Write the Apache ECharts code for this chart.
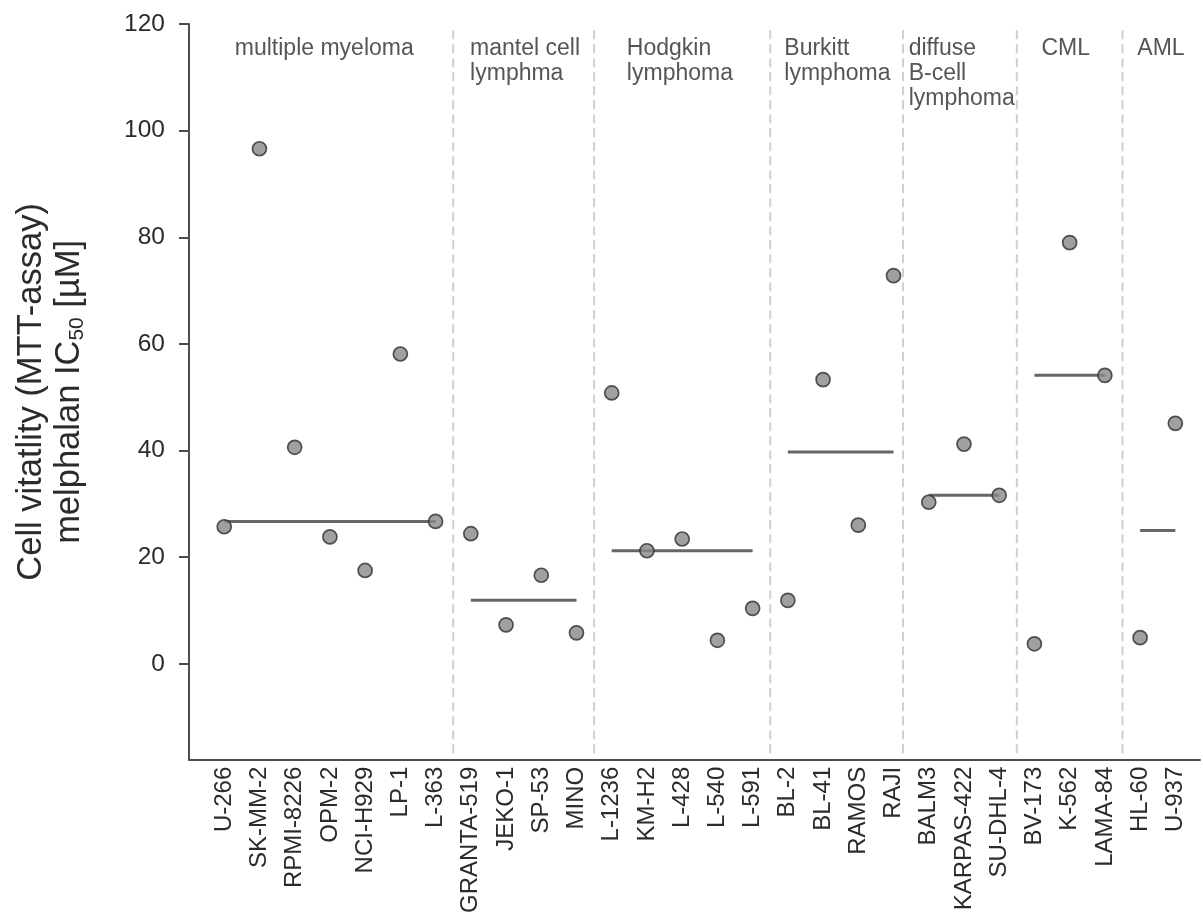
<!DOCTYPE html>
<html>
<head>
<meta charset="utf-8">
<script src="https://cdn.jsdelivr.net/npm/echarts@6/dist/echarts.min.js"></script>
<style>
html,body{margin:0;padding:0;background:#fff;}
#chart{width:1203px;height:916px;}
</style>
</head>
<body>
<div id="chart"></div>
<script>
// ---- data ----
const cellLines = ['U-266','SK-MM-2','RPMI-8226','OPM-2','NCI-H929','LP-1','L-363',
  'GRANTA-519','JEKO-1','SP-53','MINO',
  'L-1236','KM-H2','L-428','L-540','L-591',
  'BL-2','BL-41','RAMOS','RAJI',
  'BALM3','KARPAS-422','SU-DHL-4',
  'BV-173','K-562','LAMA-84',
  'HL-60','U-937'];
const ic50 = [25.7, 96.6, 40.6, 23.8, 17.5, 58.1, 26.7,
  24.4, 7.3, 16.6, 5.8,
  50.8, 21.2, 23.4, 4.4, 10.4,
  11.9, 53.3, 26.0, 72.8,
  30.3, 41.2, 31.6,
  3.75, 79.0, 54.1,
  4.9, 45.1];
const groupNames = ['multiple myeloma','mantel cell\nlymphma','Hodgkin\nlymphoma','Burkitt\nlymphoma','diffuse\nB-cell\nlymphoma','CML','AML'];
const groupSizes = [7, 4, 5, 4, 3, 3, 2];
const groupMedians = [26.7, 11.9, 21.2, 39.7, 31.6, 54.1, 25.0];
const yTicks = [0, 20, 40, 60, 80, 100, 120];

// ---- layout (not data) ----
const groupLabelX = [0.3, 6.98, 11.43, 15.9, 19.43, 23.2, 25.92];
const groupLabelY = 117.7;
const separatorX = [6.5, 10.5, 15.5, 19.27, 22.5, 25.5];

const FONT = "'Liberation Sans', Arial, Helvetica, sans-serif";
const TXT = '#2b2b2b';
const series = [];

// separators
separatorX.forEach(function (sx) {
  series.push({
    type: 'line', data: [[sx, -16.8], [sx, 119.5]], symbol: 'none', silent: true, z: 1,
    lineStyle: {color: '#cfcfcf', width: 2, type: [9, 5]}
  });
});

// median lines
let start = 0;
groupSizes.forEach(function (n, g) {
  const a = start, b = start + n - 1;
  series.push({
    type: 'line', data: [[a, groupMedians[g]], [b, groupMedians[g]]], symbol: 'none', z: 2,
    lineStyle: {color: '#666', width: 3}
  });
  start += n;
});

// points
series.push({
  type: 'scatter', z: 5,
  data: ic50.map(function (v, i) { return [i, v]; }),
  symbolSize: 14,
  itemStyle: {color: '#888', borderColor: '#2e2e2e', borderWidth: 1.7}
});

// group labels
series.push({
  type: 'scatter', z: 6, symbolSize: 0, silent: true,
  data: groupNames.map(function (name, g) { return {value: [groupLabelX[g], groupLabelY], name: name}; }),
  label: {
    show: true, position: [0, 0], align: 'left', verticalAlign: 'top',
    formatter: function (p) { return p.name; },
    fontFamily: FONT, fontSize: 23, lineHeight: 25, color: TXT
  }
});

const chart = echarts.init(document.getElementById('chart'), null, {renderer: 'canvas'});
chart.setOption({
  animation: false,
  backgroundColor: '#fff',
  grid: {left: 189, right: 3, top: 24, bottom: 155, containLabel: false},
  xAxis: {
    type: 'value', min: -1, max: 27.7, interval: 1,
    axisLine: {show: true, onZero: false, lineStyle: {color: '#4d4d4d', width: 2}},
    axisTick: {show: false},
    splitLine: {show: false},
    axisLabel: {
      rotate: 90, margin: 7, fontFamily: FONT, fontSize: 24, color: TXT,
      showMinLabel: true, showMaxLabel: false,
      formatter: function (v) { return (Number.isInteger(v) && cellLines[v]) ? cellLines[v] : ''; }
    }
  },
  yAxis: {
    type: 'value', min: -18, max: 120,
    axisLine: {show: true, onZero: false, lineStyle: {color: '#4d4d4d', width: 2}},
    axisTick: {show: true, length: 10, customValues: yTicks, lineStyle: {color: '#4d4d4d', width: 2}},
    splitLine: {show: false},
    axisLabel: {customValues: yTicks, margin: 24, fontFamily: FONT, fontSize: 24.5, color: TXT},
    name: 'Cell vitatlity (MTT-assay)\nmelphalan IC{sub|50} [µM]',
    nameLocation: 'middle', nameGap: 101,
    nameTextStyle: {
      fontFamily: FONT, fontSize: 34.5, lineHeight: 38, color: TXT,
      rich: {sub: {fontFamily: FONT, fontSize: 21, lineHeight: 38, verticalAlign: 'bottom', color: TXT}}
    }
  },
  series: series
});
</script>
</body>
</html>
